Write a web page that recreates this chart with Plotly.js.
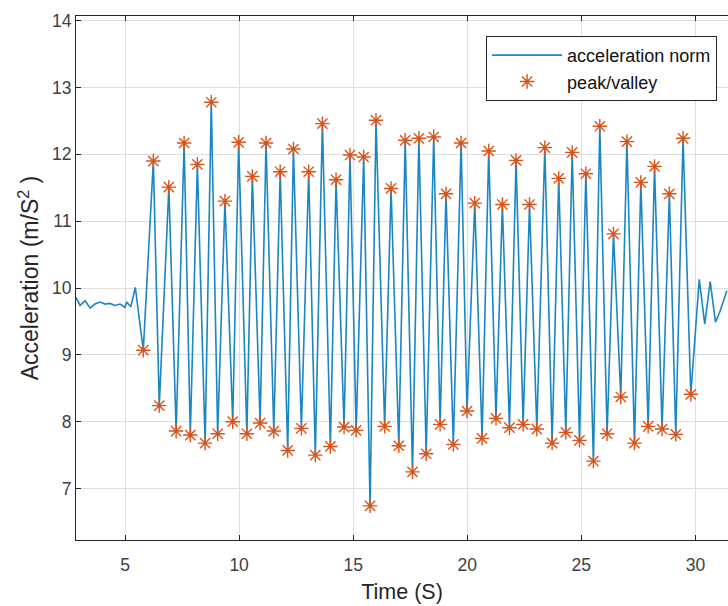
<!DOCTYPE html>
<html>
<head>
<meta charset="utf-8">
<script src="https://cdn.plot.ly/plotly-3.0.1.min.js"></script>
<style>html,body{margin:0;padding:0;background:#fff;}#chart{width:728px;height:606px;}</style>
</head>
<body>
<div id="chart"></div>
<script>
// Quiet signal before walking starts (time in s, acceleration in m/s^2)
const leadTime  = [2.85, 3.03, 3.25, 3.47, 3.68, 3.90, 4.12, 4.34, 4.56, 4.78, 5.00, 5.07, 5.25, 5.45];
const leadAccel = [9.86, 9.74, 9.81, 9.70, 9.76, 9.79, 9.76, 9.77, 9.74, 9.76, 9.71, 9.79, 9.72, 10.01];

// Detected peaks and valleys, in time order
const extremaTime = [
  5.80, 6.24, 6.50, 6.92, 7.24, 7.59, 7.86, 8.17, 8.51, 8.78,
  9.06, 9.38, 9.72, 9.98, 10.34, 10.58, 10.92, 11.18, 11.52, 11.80,
  12.13, 12.38, 12.73, 13.05, 13.34, 13.65, 14.00, 14.25, 14.60, 14.86,
  15.13, 15.46, 15.74, 16.00, 16.38, 16.66, 17.00, 17.28, 17.60, 17.88,
  18.20, 18.53, 18.81, 19.07, 19.39, 19.73, 19.99, 20.33, 20.65, 20.94,
  21.26, 21.54, 21.85, 22.14, 22.45, 22.73, 23.05, 23.40, 23.72, 24.01,
  24.32, 24.60, 24.92, 25.20, 25.53, 25.81, 26.13, 26.41, 26.73, 27.00,
  27.33, 27.61, 27.93, 28.21, 28.54, 28.86, 29.14, 29.46, 29.80
];
const extremaAccel = [
  9.07, 11.90, 8.24, 11.51, 7.86, 12.17, 7.80, 11.85, 7.68, 12.78,
  7.82, 11.30, 8.00, 12.18, 7.82, 11.67, 7.98, 12.17, 7.86, 11.74,
  7.57, 12.08, 7.90, 11.74, 7.50, 12.46, 7.63, 11.62, 7.92, 11.99,
  7.87, 11.96, 6.74, 12.51, 7.93, 11.49, 7.64, 12.21, 7.25, 12.24,
  7.52, 12.26, 7.96, 11.41, 7.66, 12.17, 8.16, 11.27, 7.75, 12.05,
  8.05, 11.25, 7.91, 11.91, 7.96, 11.25, 7.89, 12.10, 7.68, 11.64,
  7.84, 12.03, 7.72, 11.71, 7.41, 12.42, 7.82, 10.81, 8.37, 12.19,
  7.68, 11.58, 7.93, 11.82, 7.89, 11.41, 7.81, 12.24, 8.41
];

// Settling signal after walking stops
const tailTime  = [30.17, 30.41, 30.65, 30.88, 31.09, 31.38];
const tailAccel = [10.13, 9.46, 10.10, 9.49, 9.66, 9.96];

const xTicks = [5, 10, 15, 20, 25, 30];
const yTicks = [7, 8, 9, 10, 11, 12, 13, 14];

const lineTime  = leadTime.concat(extremaTime, tailTime);
const lineAccel = leadAccel.concat(extremaAccel, tailAccel);

const FONT = 'Liberation Sans, Arial, sans-serif';
const AX = '#262626';

const traces = [
  {
    x: lineTime, y: lineAccel, type: 'scatter', mode: 'lines',
    name: 'acceleration norm',
    line: {color: '#1a86c4', width: 1.6},
    hoverinfo: 'skip'
  },
  {
    x: extremaTime, y: extremaAccel, type: 'scatter', mode: 'markers',
    name: 'peak/valley',
    marker: {symbol: 'asterisk-open', size: 12, color: '#D95319',
             line: {color: '#D95319', width: 1.4}}
  }
];

const layout = {
  width: 728, height: 606,
  margin: {l: 76, r: 0, t: 16, b: 66},
  paper_bgcolor: '#fff', plot_bgcolor: '#fff',
  font: {family: FONT, color: AX, size: 17},
  showlegend: true,
  legend: {
    x: 0.629, y: 0.962, xanchor: 'left', yanchor: 'top',
    bgcolor: '#fff', bordercolor: AX, borderwidth: 1,
    font: {family: FONT, size: 18, color: '#111'},
    itemwidth: 70,
    tracegroupgap: 0
  },
  xaxis: {
    range: [2.85, 31.43],
    tickvals: xTicks,
    ticks: 'inside', ticklen: 5, tickcolor: AX,
    showline: true, linecolor: AX, linewidth: 1, mirror: 'ticks',
    showgrid: true, gridcolor: '#dedede', gridwidth: 1,
    zeroline: false,
    tickfont: {family: FONT, size: 17.5, color: '#404040'},
    ticklabelstandoff: 9,
    title: {text: 'Time (S)', font: {family: FONT, size: 21.5, color: '#262626'}, standoff: 9}
  },
  yaxis: {
    range: [6.23, 14.07],
    tickvals: yTicks,
    ticks: 'inside', ticklen: 5, tickcolor: AX,
    showline: true, linecolor: AX, linewidth: 1,
    showgrid: true, gridcolor: '#dedede', gridwidth: 1,
    zeroline: false,
    tickfont: {family: FONT, size: 17.5, color: '#404040'},
    title: {text: 'Acceleration (m/S<sup>2</sup> )', font: {family: FONT, size: 23, color: '#262626'}, standoff: 6}
  }
};

Plotly.newPlot('chart', traces, layout, {displayModeBar: false, staticPlot: true});
</script>
</body>
</html>
